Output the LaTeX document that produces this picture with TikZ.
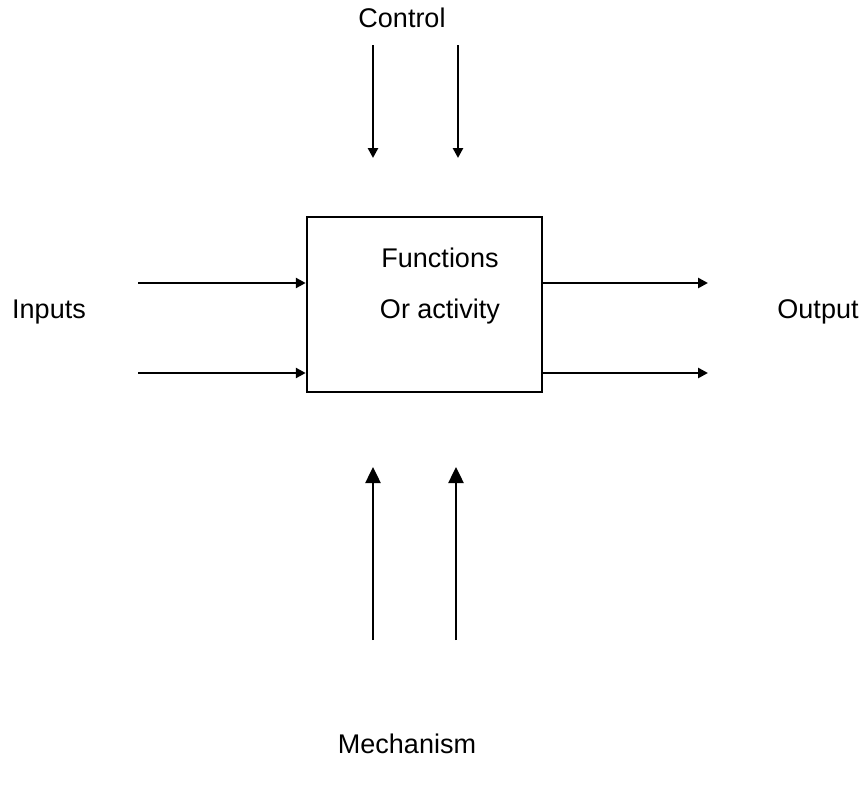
\documentclass[tikz,border=0pt]{standalone}
\usepackage{fontspec}
\setmainfont{Liberation Sans}
\usetikzlibrary{arrows.meta}
\begin{document}
\begin{tikzpicture}[x=1pt,y=-1pt,
  lbl/.style={font=\fontsize{27}{32}\selectfont, inner sep=0pt},
  conn/.style={line width=2.5pt, -{Triangle[length=10pt,width=10pt]}},
  mconn/.style={line width=2.5pt, -{Triangle[length=16pt,width=15pt]}},
  fbox/.style={draw, line width=2.5pt, minimum width=235pt, minimum height=175pt, inner sep=0pt}]
\useasboundingbox (0,0) rectangle (860,790);
\node[fbox] (box) at (424.5,304.5) {};
\node[lbl] (f) at (440,258) {Functions};
\node[lbl] (a) at (440,312) {Or activity};
\node[lbl] (ctl) at (402,18) {Control};
\node[lbl] (inp) at (49,312) {Inputs};
\node[lbl] (out) at (818,312) {Output};
\node[lbl] (mech) at (407,744) {Mechanism};
% control
\coordinate (c1s) at (373,45); \coordinate (c1e) at (373,158);
\coordinate (c2s) at (458,45); \coordinate (c2e) at (458,158);
\draw[conn] (c1s) -- (c1e);
\draw[conn] (c2s) -- (c2e);
% mechanism
\coordinate (m1s) at (373,640); \coordinate (m1e) at (373,467);
\coordinate (m2s) at (456,640); \coordinate (m2e) at (456,467);
\draw[mconn] (m1s) -- (m1e);
\draw[mconn] (m2s) -- (m2e);
% inputs
\coordinate (i1) at (138,283); \coordinate (i2) at (138,373);
\draw[conn] (i1) -- (i1 -| box.west);
\draw[conn] (i2) -- (i2 -| box.west);
% outputs
\coordinate (o1) at (708,283); \coordinate (o2) at (708,373);
\draw[conn] (o1 -| box.east) -- (o1);
\draw[conn] (o2 -| box.east) -- (o2);
\end{tikzpicture}
\end{document}
